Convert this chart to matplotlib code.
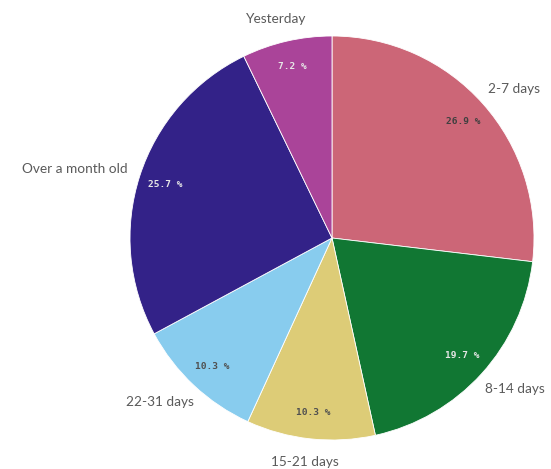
import numpy as np
import matplotlib
matplotlib.use("Agg")
import matplotlib.pyplot as plt

# Age of items, share per bucket (percent)
categories = ["2-7 days", "8-14 days", "15-21 days", "22-31 days", "Over a month old", "Yesterday"]
shares = [26.9, 19.7, 10.3, 10.3, 25.7, 7.2]
colors = ["#CC6677", "#117733", "#DDCC77", "#88CCEE", "#332288", "#AA4499"]
pct_colors = ["#404040", "#e6e6e6", "#505050", "#505050", "#e6e6e6", "#e6e6e6"]

W, H = 551, 469
fig = plt.figure(figsize=(W / 100, H / 100), dpi=100)
ax = fig.add_axes([0, 0, 1, 1])

cx, cy, R = 332, 231, 202

wedges, texts, autotexts = ax.pie(
    shares,
    labels=categories,
    colors=colors,
    startangle=90,
    counterclock=False,
    center=(cx, cy),
    radius=R,
    autopct=lambda p: f"{p:.1f} %",
    pctdistance=0.87,
    labeldistance=1.1,
    wedgeprops=dict(edgecolor="white", linewidth=0.6),
    textprops=dict(fontfamily="Lato", fontsize=9.8, color="#5a5a5a"),
)
ax.set_xlim(0, W)
ax.set_ylim(0, H)
ax.set_aspect("equal")
ax.axis("off")

for at, c in zip(autotexts, pct_colors):
    at.set_fontfamily("DejaVu Sans Mono")
    at.set_fontsize(6.8)
    at.set_fontweight("bold")
    at.set_color(c)

# Outer labels: anchored around the rim, sliding horizontally with the angle
fig.canvas.draw()
renderer = fig.canvas.get_renderer()
for w, t in zip(wedges, texts):
    mid = np.deg2rad((w.theta1 + w.theta2) / 2)
    ax_x = cx + 217 * np.cos(mid)
    ax_y = cy + 225 * np.sin(mid)
    f = (1 - np.cos(mid)) / 2
    width = t.get_window_extent(renderer).width
    t.set_horizontalalignment("left")
    t.set_verticalalignment("center")
    t.set_position((ax_x - f * width, ax_y))

fig.savefig("out.png", dpi=100)
